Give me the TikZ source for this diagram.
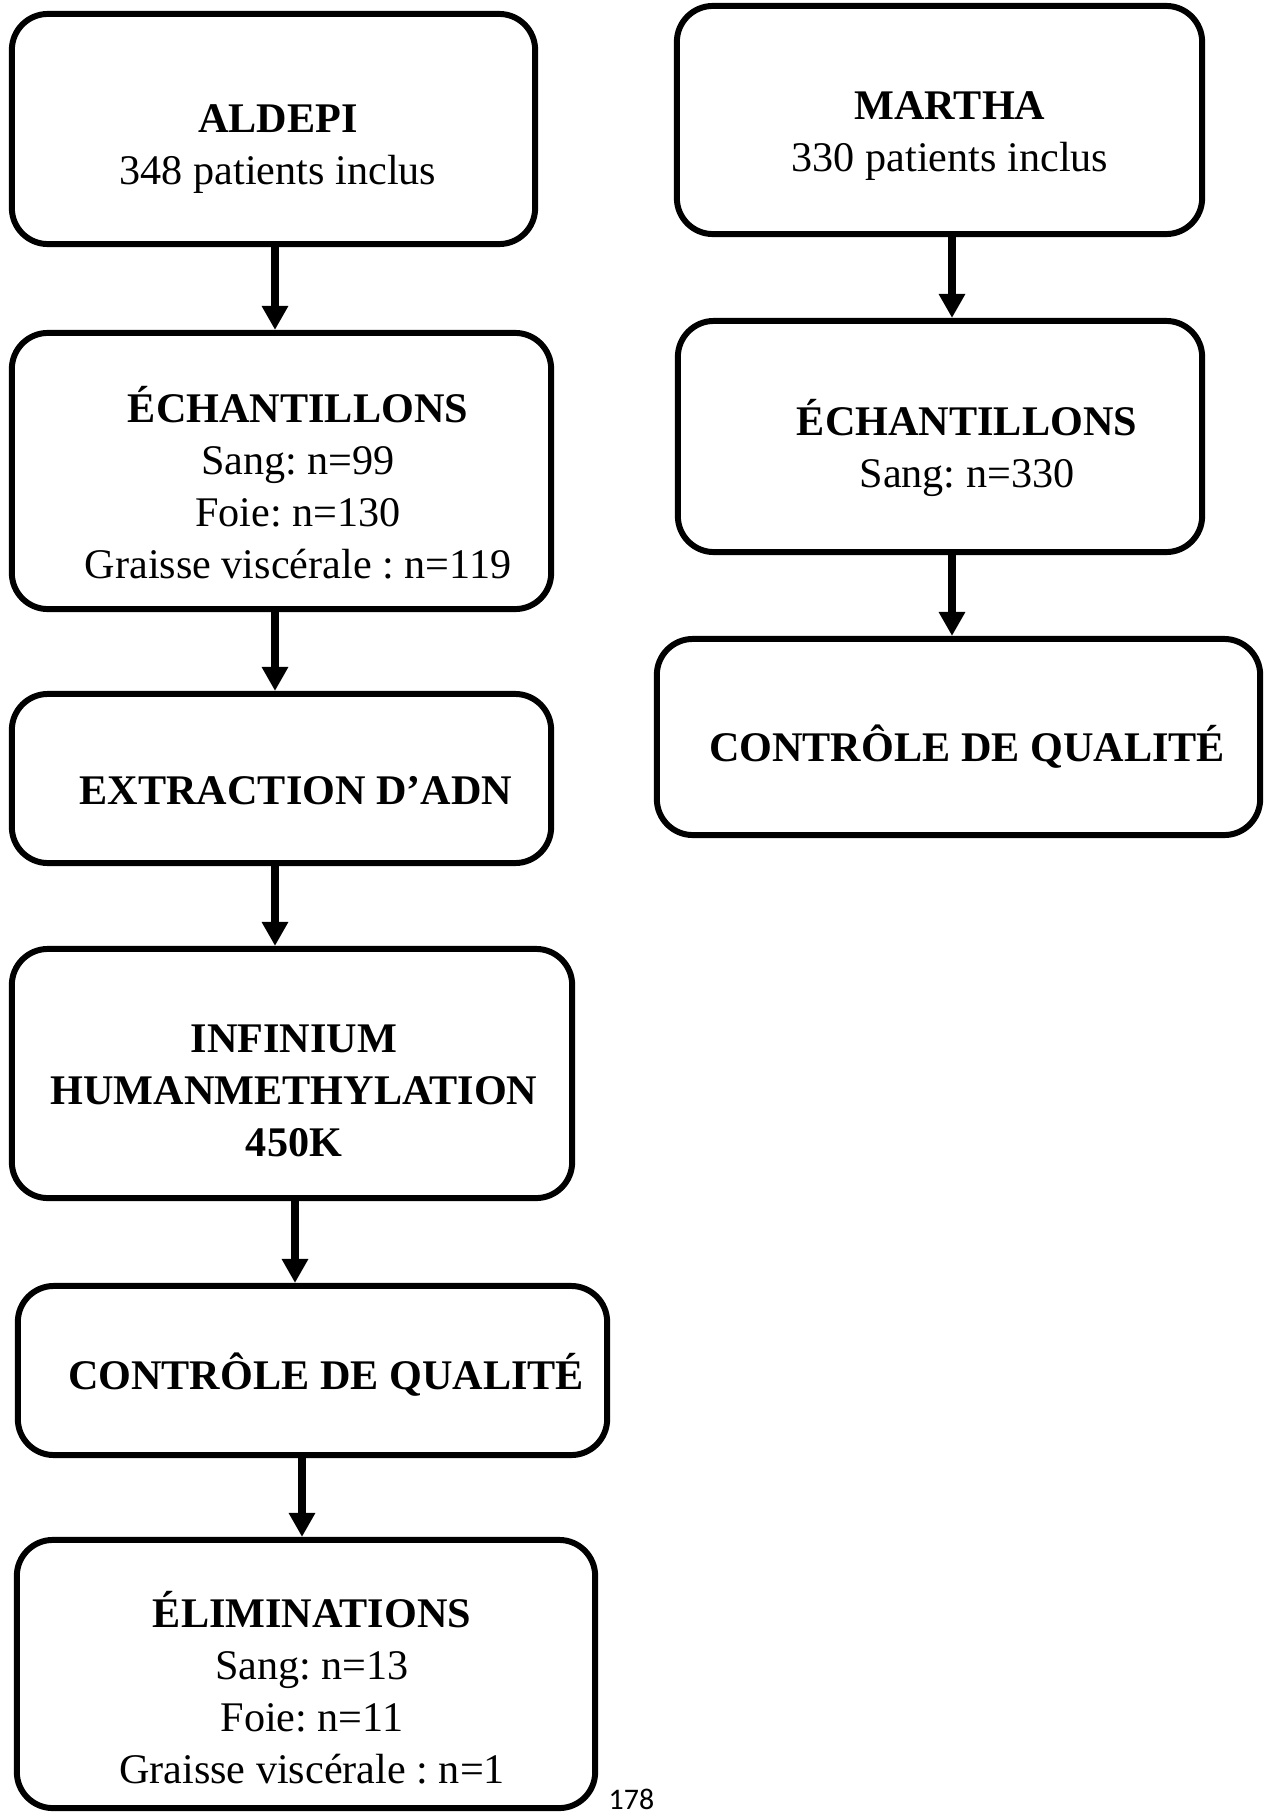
\documentclass[tikz,border=0pt]{standalone}
\usepackage{fontspec}
\setmainfont{Liberation Serif}
\newfontfamily\pagefont{Carlito}
\usetikzlibrary{arrows.meta}
\frenchspacing

\begin{document}
\begin{tikzpicture}[x=0.01cm, y=-0.01cm,
    stepbox/.style={draw, line width=1.7pt, rounded corners=0.36cm, inner sep=0pt},
    boxtext/.style={align=center, inner sep=0pt, font=\fontsize{12}{14.8}\selectfont},
    flow/.style={line width=2.5pt, -{Triangle[width=0.25cm, length=0.24cm]}}]
      \useasboundingbox (0,0) rectangle (1266,1812);

      % arrow columns
      \coordinate (ColA) at (275,0);
      \coordinate (ColB) at (295,0);
      \coordinate (ColC) at (302,0);
      \coordinate (ColR) at (952,0);

      % ALDEPI column
      \node[stepbox, minimum width=5.23cm, minimum height=2.30cm] (Ald) at (273.5,129) {};
      \node[stepbox, minimum width=5.39cm, minimum height=2.76cm] (Ech) at (281.5,471) {};
      \node[stepbox, minimum width=5.39cm, minimum height=1.69cm] (Ext) at (281.5,778.5) {};
      \node[stepbox, minimum width=5.60cm, minimum height=2.49cm] (Inf) at (292,1073.5) {};
      \node[stepbox, minimum width=5.89cm, minimum height=1.69cm] (Ctl) at (312.5,1370.5) {};
      \node[stepbox, minimum width=5.78cm, minimum height=2.68cm] (Elim) at (306,1674) {};

      \node[boxtext] (AldT) at (278,149) {\textbf{ALDEPI}\\348 patients inclus};
      \node[boxtext] (EchT) at (298,483) {\textbf{ÉCHANTILLONS}\\Sang: n=99\\Foie: n=130\\Graisse viscérale : n=119};
      \node[boxtext] (ExtT) at (296,791) {\textbf{EXTRACTION D’ADN}};
      \node[boxtext] (InfT) at (294,1091) {\textbf{INFINIUM}\\\textbf{HUMANMETHYLATION}\\\textbf{450K}};
      \node[boxtext] (CtlT) at (326,1375) {\textbf{CONTRÔLE DE QUALITÉ}};
      \node[boxtext] (ElimT) at (312,1688) {\textbf{ÉLIMINATIONS}\\Sang: n=13\\Foie: n=11\\Graisse viscérale : n=1};

      % MARTHA column
      \node[stepbox, minimum width=5.25cm, minimum height=2.28cm] (Mar) at (939.5,120) {};
      \node[stepbox, minimum width=5.24cm, minimum height=2.31cm] (Echp) at (940,436.5) {};
      \node[stepbox, minimum width=6.03cm, minimum height=1.96cm] (Ctlp) at (958.5,737) {};

      \node[boxtext] (MarT) at (950,136) {\textbf{MARTHA}\\330 patients inclus};
      \node[boxtext] (EchpT) at (967,448) {\textbf{ÉCHANTILLONS}\\Sang: n=330};
      \node[boxtext] (CtlpT) at (967,747) {\textbf{CONTRÔLE DE QUALITÉ}};

      \draw[flow] (Ald.south -| ColA) -- (Ech.north -| ColA);
      \draw[flow] (Ech.south -| ColA) -- (Ext.north -| ColA);
      \draw[flow] (Ext.south -| ColA) -- (Inf.north -| ColA);
      \draw[flow] (Inf.south -| ColB) -- (Ctl.north -| ColB);
      \draw[flow] (Ctl.south -| ColC) -- (Elim.north -| ColC);

      \draw[flow] (Mar.south -| ColR) -- (Echp.north -| ColR);
      \draw[flow] (Echp.south -| ColR) -- (Ctlp.north -| ColR);

      % page number
      \node[anchor=base west, inner sep=0pt, font=\pagefont\fontsize{8.5}{10}\selectfont] (Page) at (608,1809) {178};
\end{tikzpicture}
\end{document}
